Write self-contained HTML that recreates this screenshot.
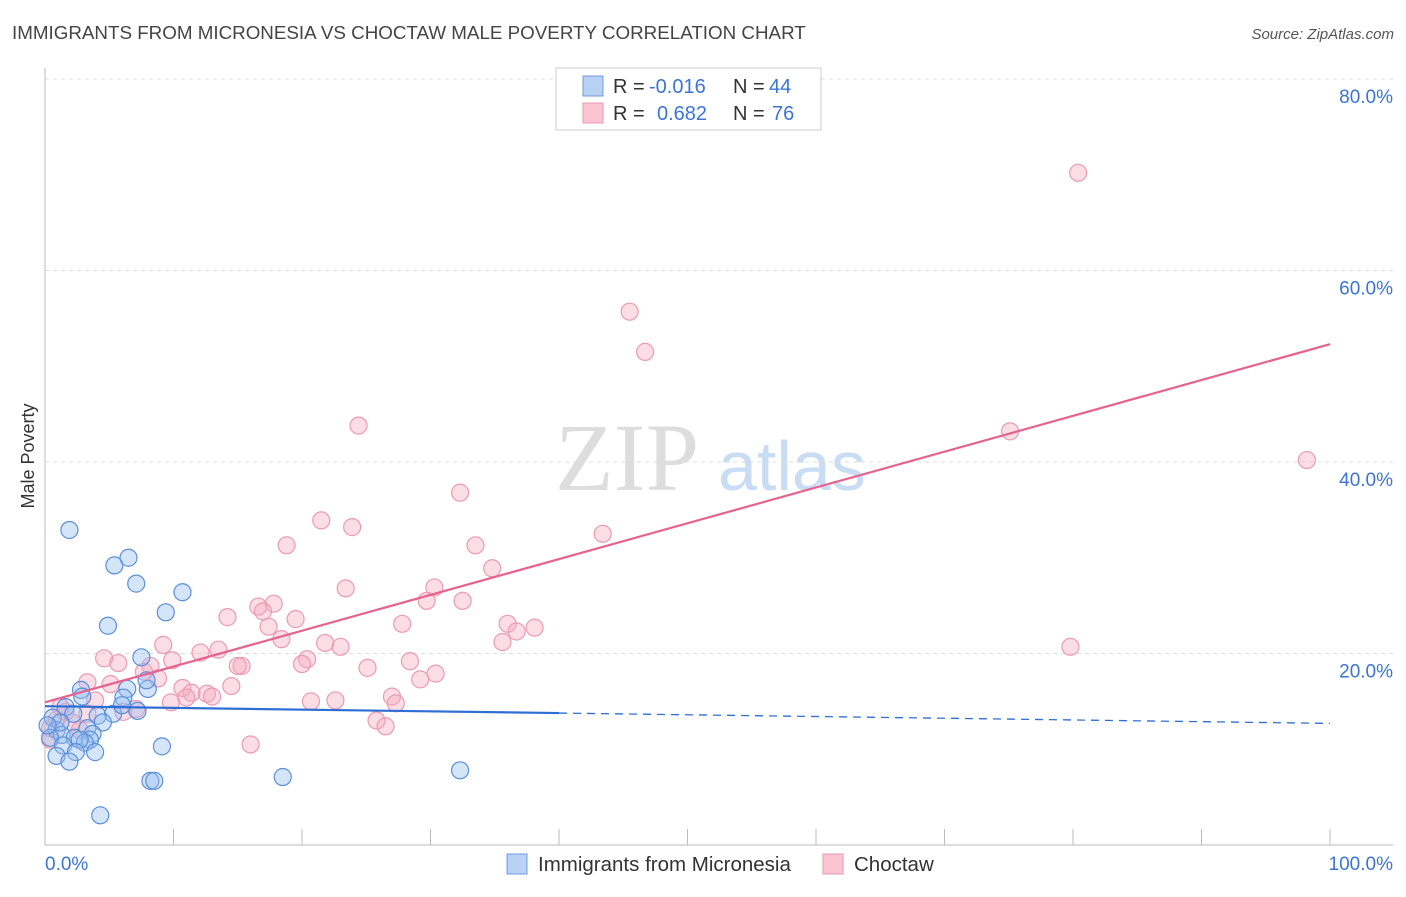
<!DOCTYPE html>
<html><head><meta charset="utf-8"><style>
body{margin:0;background:#fff;font-family:"Liberation Sans",sans-serif}
</style></head><body>
<svg width="1406" height="892" xmlns="http://www.w3.org/2000/svg" id="svg">
<text x="12" y="39" font-size="18.8" fill="#444">IMMIGRANTS FROM MICRONESIA VS CHOCTAW MALE POVERTY CORRELATION CHART</text>
<text x="1394" y="39" font-size="15" fill="#555" font-style="italic" text-anchor="end">Source: ZipAtlas.com</text>
<text x="555" y="490" font-size="96" fill="#ddd" font-family="Liberation Serif,serif">ZIP</text>
<text x="718" y="490" font-size="70" fill="#c8dcf4">atlas</text>
<text transform="translate(34,456) rotate(-90)" font-size="18" fill="#333" text-anchor="middle">Male Poverty</text>
<g id="grid"></g><g id="marks"></g>
<g font-size="20">
<rect x="556" y="68" width="265" height="62" fill="#fff" stroke="#ccc"/>
<rect x="583" y="76" width="20" height="20" fill="#b8d2f4" stroke="#6c9be0"/>
<rect x="583" y="103" width="20" height="20" fill="#f8c4d2" stroke="#ea9ab3"/>
<text x="613" y="93" fill="#333">R =</text><text x="649" y="93" fill="#3a75d6">-0.016</text>
<text x="733" y="93" fill="#333">N =</text><text x="769" y="93" fill="#3a75d6">44</text>
<text x="613" y="120" fill="#333">R =</text><text x="657" y="120" fill="#3a75d6">0.682</text>
<text x="733" y="120" fill="#333">N =</text><text x="772" y="120" fill="#3a75d6">76</text>
</g>
<g>
<rect x="507" y="854" width="20" height="20" fill="#b8d2f4" stroke="#6c9be0"/>
<text x="538" y="871" font-size="20.5" fill="#333">Immigrants from Micronesia</text>
<rect x="823" y="854" width="20" height="20" fill="#f8c4d2" stroke="#ea9ab3"/>
<text x="854" y="871" font-size="20.5" fill="#333">Choctaw</text>
</g>
</svg>
<script>
const yTicks=[20,40,60,80];
const xTickLabels=["0.0%","100.0%"];
const blueX=[1.9,5.4,6.5,7.1,10.7,9.4,4.9,7.5,6.4,8.0,7.9,6.1,2.8,2.9,1.6,0.6,4.1,5.3,4.5,3.3,2.2,0.9,1.3,2.3,3.7,0.4,1.4,3.5,3.1,2.7,0.9,2.4,3.9,1.9,7.2,9.1,8.2,8.5,18.5,32.3,4.3,6.0,1.2,0.2];
const blueY=[32.9,29.2,30.0,27.3,26.4,24.3,22.9,19.6,16.3,16.3,17.2,15.4,16.2,15.5,14.4,13.3,13.5,13.7,12.8,12.2,13.7,12.0,11.5,11.2,11.6,11.2,10.4,11.0,10.7,11.0,9.3,9.7,9.7,8.7,14.0,10.3,6.7,6.7,7.1,7.8,3.1,14.6,12.8,12.5];
const pinkX=[80.4,45.5,46.7,24.4,75.1,98.2,32.3,21.5,23.9,43.4,18.8,33.5,34.8,23.4,30.3,29.7,32.5,17.8,16.6,16.96,14.2,19.5,17.4,27.8,36.0,38.1,36.7,18.4,21.8,23.0,35.6,9.2,79.8,12.1,13.5,9.9,4.6,5.7,8.2,20.4,20.0,28.4,15.3,15.0,25.1,7.7,30.4,3.3,5.1,8.8,14.5,10.7,11.4,12.6,13.0,11.0,9.8,20.7,22.6,27.0,27.3,3.9,29.2,7.1,6.1,25.8,26.5,16.0,1.6,0.9,2.1,0.4,1.2,3.3,0.4,2.7];
const pinkY=[70.2,55.7,51.5,43.8,43.2,40.2,36.8,33.9,33.2,32.5,31.3,31.3,28.9,26.8,26.9,25.5,25.5,25.2,24.9,24.4,23.8,23.6,22.8,23.1,23.1,22.7,22.3,21.5,21.1,20.7,21.2,20.9,20.7,20.1,20.4,19.3,19.5,19.0,18.7,19.4,18.9,19.2,18.7,18.7,18.5,18.1,17.9,17.0,16.8,17.4,16.6,16.4,15.9,15.8,15.5,15.4,14.9,15.0,15.1,15.5,14.8,15.1,17.3,14.2,13.9,13.0,12.4,10.5,13.9,13.1,12.8,12.2,14.4,13.7,11.0,12.0];
const blueTrend=[14.5,12.7];
const pinkTrend=[14.9,52.3];
const NS="http://www.w3.org/2000/svg";
const X=v=>45+v*12.85, Y=v=>845-v*9.575;
const grid=document.getElementById('grid'), marks=document.getElementById('marks');
function mk(p,tag,a){const e=document.createElementNS(NS,tag);for(const k in a)e.setAttribute(k,a[k]);p.appendChild(e);return e;}
let e;
e=mk(grid,'line',{x1:45,y1:68,x2:45,y2:845,stroke:'#bbb'});


e=mk(grid,'line',{x1:45,y1:845,x2:1393,y2:845,stroke:'#bbb'});


for(let i=0;i<=10;i++){e=mk(grid,'line',{x1:X(i*10),y1:829,x2:X(i*10),y2:845,stroke:'#bbb'});

}
yTicks.forEach(t=>{e=mk(grid,'line',{x1:45,y1:Y(t),x2:1393,y2:Y(t),stroke:'#ddd','stroke-dasharray':'4,4'});


e=mk(grid,'text',{x:1393,y:Y(t)+24,'font-size':19,fill:'#3a75d6','text-anchor':'end'});e.textContent=t.toFixed(1)+'%';

});
e=mk(grid,'text',{x:45,y:870,'font-size':19,fill:'#3a75d6'});e.textContent=xTickLabels[0];


e=mk(grid,'text',{x:1393,y:870,'font-size':19,fill:'#3a75d6','text-anchor':'end'});e.textContent=xTickLabels[1];


pinkX.forEach((v,i)=>{e=mk(marks,'circle',{cx:X(v),cy:Y(pinkY[i]),r:8.5,fill:'rgba(244,170,192,0.4)',stroke:'#ec9ab4','stroke-width':1.2});

});
blueX.forEach((v,i)=>{e=mk(marks,'circle',{cx:X(v),cy:Y(blueY[i]),r:8.5,fill:'rgba(150,190,240,0.4)',stroke:'#5a8fd8','stroke-width':1.2});

});
const by=x=>blueTrend[0]+(blueTrend[1]-blueTrend[0])*x/100;
e=mk(marks,'line',{x1:X(0),y1:Y(by(0)),x2:X(40),y2:Y(by(40)),stroke:'#2f6fd4','stroke-width':2.2});


e=mk(marks,'line',{x1:X(40),y1:Y(by(40)),x2:X(100),y2:Y(by(100)),stroke:'#2f6fd4','stroke-width':1.3,'stroke-dasharray':'8,6'});


e=mk(marks,'line',{x1:X(0),y1:Y(pinkTrend[0]),x2:X(100),y2:Y(pinkTrend[1]),stroke:'#e8628f','stroke-width':2.2});


</script>
</body></html>
